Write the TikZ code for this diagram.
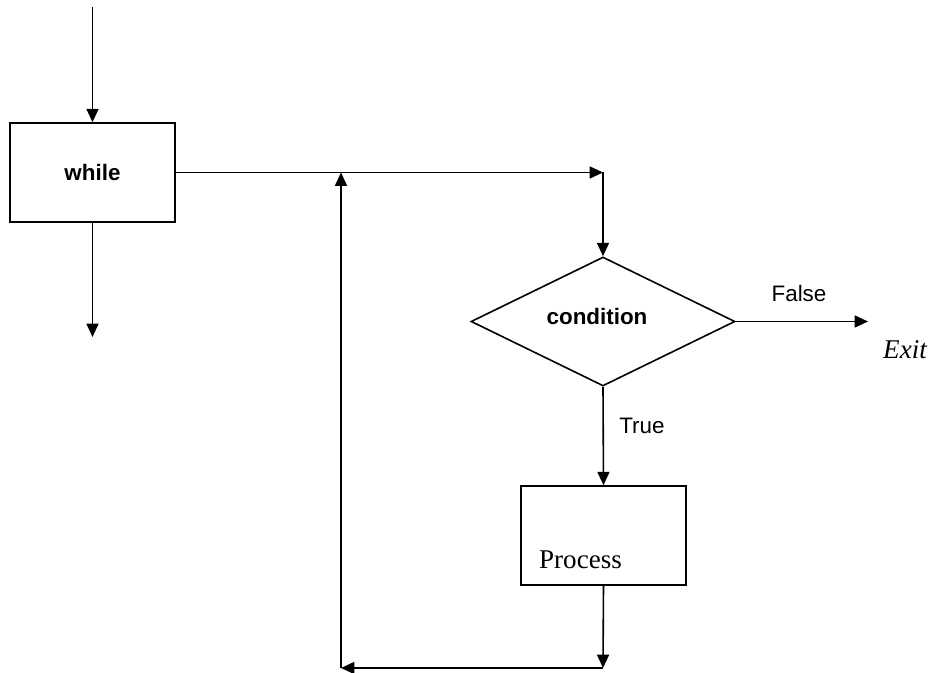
\documentclass[tikz,border=0pt]{standalone}
\usepackage{fontspec}
\setmainfont{Liberation Serif}
\setsansfont{Liberation Sans}
\usetikzlibrary{shapes.geometric,arrows.meta}
\tikzset{
  flowBox/.style = {draw, rectangle, line width=1.2pt, inner sep=0pt,
                    minimum width=123.75pt, minimum height=74.25pt},
  flowDiamond/.style = {draw, diamond, line width=1.2pt, inner sep=0pt,
                        minimum width=198pt, minimum height=96.75pt},
  flowArrow/.style = {line width=1.2pt, -{Triangle[length=10pt,width=9pt]}},
  sansText/.style = {font=\sffamily\fontsize{16.8}{20}\selectfont},
  serifText/.style = {font=\rmfamily\fontsize{20.3}{24}\selectfont}
         }

\begin{document}
\begin{tikzpicture}[x=0.75pt,y=-0.75pt]
    \useasboundingbox (0,0) rectangle (933,673);
    % The boxes of the loop
    \node[flowBox,sansText] (while) at (92.5,172.5) {\bfseries while};
    \node[flowDiamond] (condition) at (603,321.5) {};
    \node[flowBox] (process) at (603.5,535.5) {};
    % Texts placed inside the boxes
    \node[sansText] (conditionText) at (597,316) {\bfseries condition};
    \node[serifText] (processText) at (580.5,560) {Process};
    % Corners of the connectors
    \coordinate (topIn) at (92.5,7);
    \coordinate (whileOut) at (92.5,337);
    \coordinate (turnTop) at (603,172.5);
    \coordinate (loopTop) at (341,172.5);
    \coordinate (exitEnd) at (868,321.5);
    \coordinate (turnBottom) at (603,668);
    \coordinate (loopBottom) at (341,668);
    % Connectors
    \draw[flowArrow] (topIn) -- (while.north);
    \draw[flowArrow] (while.south) -- (whileOut);
    \draw[flowArrow] (while.east) -- (turnTop);
    \draw[flowArrow] (turnTop) -- (condition.north);
    \draw[flowArrow] (condition.east) -- (exitEnd);
    \draw[flowArrow] (condition.south) -- (process.north);
    \draw[flowArrow] (process.south) -- (turnBottom);
    \draw[flowArrow] (turnBottom) -- (loopBottom);
    \draw[flowArrow] (loopBottom) -- (loopTop);
    % Labels of the branches
    \node[sansText] (falseText) at (799,293) {False};
    \node[serifText] (exitText) at (905,350) {\itshape Exit};
    \node[sansText] (trueText) at (642,426) {True};
\end{tikzpicture}
\end{document}
